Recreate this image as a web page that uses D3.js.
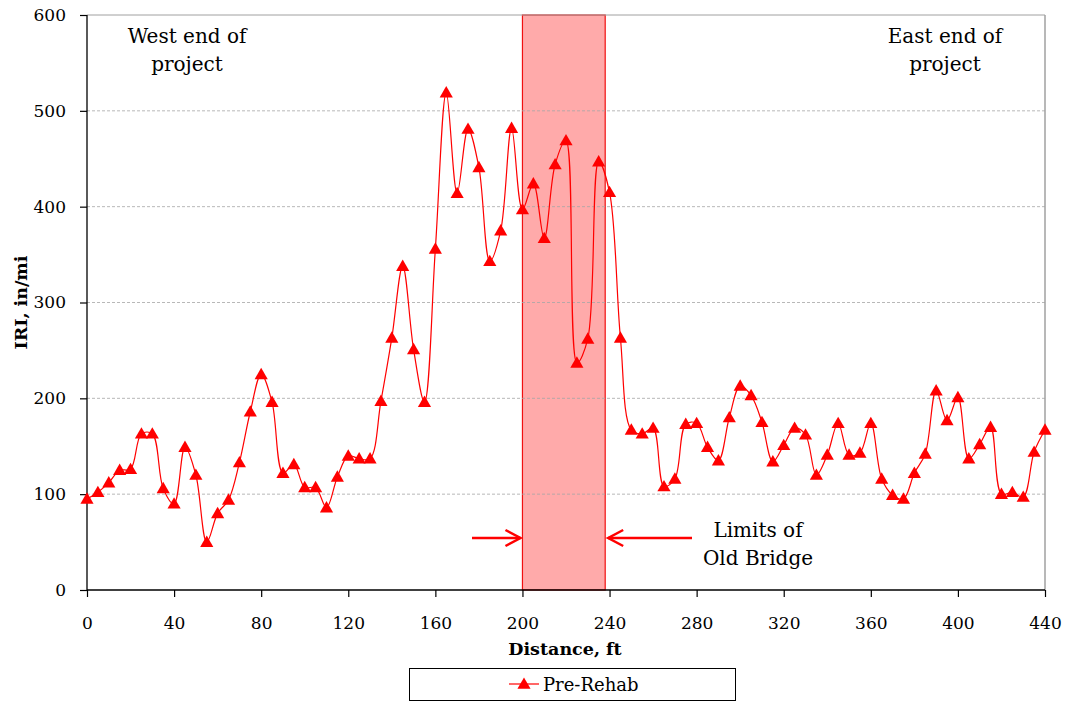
<!DOCTYPE html>
<html><head><meta charset="utf-8">
<script src="https://cdn.jsdelivr.net/npm/d3@7"></script>
<style>body{margin:0;background:#fff;} text{font-family:"DejaVu Serif",serif;fill:#000;}</style>
</head><body>
<svg id="chart" width="1066" height="702"></svg>
<script>
const distances = d3.range(0, 441, 5);
const preRehab = [95,102,112,125,126,163,163,106,90,149,120,50,80,94,133,186,225,196,122,131,
  107,107,86,118,140,137,137,197,263,338,251,196,356,519,414,481,441,343,375,482,
  397,424,367,444,469,237,262,447,415,263,167,163,169,108,116,173,174,149,135,180,
  213,203,175,134,151,169,162,120,141,174,141,143,174,116,99,95,122,142,208,177,
  201,137,152,170,100,102,97,144,167];
const xTicks = [0,40,80,120,160,200,240,280,320,360,400,440];
const yTicks = [0,100,200,300,400,500,600];
const bridge = [200, 238];
const seriesName = "Pre-Rehab";

const svg = d3.select("#chart");
const L = 87, R = 1045, T = 15, B = 590;
const x = d3.scaleLinear().domain([0,440]).range([L,R]);
const y = d3.scaleLinear().domain([0,600]).range([B,T]);

// bridge band
svg.append("rect").attr("x",x(bridge[0])).attr("y",T).attr("width",x(bridge[1])-x(bridge[0])).attr("height",B-T)
  .attr("fill","#ffaaaa").attr("stroke","#f01010").attr("stroke-width",1.2);

// gridlines
svg.append("g").selectAll("line").data(yTicks.filter(d=>d>0 && d<600)).join("line")
  .attr("x1",L).attr("x2",R).attr("y1",d=>y(d)).attr("y2",d=>y(d))
  .attr("stroke","#a6a6a6").attr("stroke-opacity",0.8).attr("stroke-width",1).attr("stroke-dasharray","3,2");
// plot border top/right
svg.append("line").attr("x1",L).attr("x2",R).attr("y1",y(600)).attr("y2",y(600)).attr("stroke","#a0a0a0");
svg.append("line").attr("x1",R).attr("x2",R).attr("y1",T).attr("y2",B).attr("stroke","#a0a0a0").attr("stroke-width",1.5);

// axes
const yAxis = d3.axisLeft(y).tickValues(yTicks).tickSize(7).tickPadding(14).tickFormat(d3.format("d"));
const gy = svg.append("g").attr("transform",`translate(${L},0)`).call(yAxis);
const xAxis = d3.axisBottom(x).tickValues(xTicks).tickSize(7).tickPadding(20).tickFormat(d3.format("d"));
const gx = svg.append("g").attr("transform",`translate(0,${B})`).call(xAxis);
[gx,gy].forEach(g=>{
  g.select(".domain").attr("stroke","#000").attr("stroke-width",1.3);
  g.selectAll(".tick line").attr("stroke","#000").attr("stroke-width",1.2);
  g.selectAll(".tick text").style("font-family","DejaVu Serif").style("font-size","17px").attr("fill","#000");
});
gx.select(".domain").attr("d",`M${L},0H${R}`);
gy.select(".domain").attr("d",`M0,${B}V${T}`);

// titles
svg.append("text").attr("x",(L+R)/2-1).attr("y",655).attr("text-anchor","middle")
  .style("font-weight","bold").style("font-size","17.5px").text("Distance, ft");
svg.append("text").attr("transform",`translate(27,${(T+B)/2}) rotate(-90)`).attr("text-anchor","middle")
  .style("font-weight","bold").style("font-size","17.5px").text("IRI, in/mi");

// line
const line = d3.line().x((d,i)=>x(distances[i])).y(d=>y(d)).curve(d3.curveCatmullRom.alpha(0.5));
svg.append("path").datum(preRehab).attr("d",line).attr("fill","none").attr("stroke","#ff0000").attr("stroke-width",1.2);
const tri = d3.symbol().type(d3.symbolTriangle).size(75);
svg.append("g").selectAll("path").data(preRehab).join("path")
  .attr("transform",(d,i)=>`translate(${x(distances[i])},${y(d)+1})`).attr("d",tri).attr("fill","#ff0000");

// annotations
function multi(cx, ys, lines){
  lines.forEach((t,i)=>svg.append("text").attr("x",cx).attr("y",ys[i]).attr("text-anchor","middle").style("font-size","20px").text(t));
}
multi(187,[43,71],["West end of","project"]);
multi(945,[43,71],["East end of","project"]);
multi(758,[537,565],["Limits of","Old Bridge"]);

// arrows
function arrow(x1,x2,yy){
  const dir = Math.sign(x2-x1);
  svg.append("line").attr("x1",x1).attr("x2",x2).attr("y1",yy).attr("y2",yy).attr("stroke","#ff0000").attr("stroke-width",2.5);
  svg.append("path").attr("d",`M${x2-dir*15},${yy-8}L${x2},${yy}L${x2-dir*15},${yy+8}`)
    .attr("fill","none").attr("stroke","#ff0000").attr("stroke-width",2.5);
}
arrow(472, x(bridge[0])-2, 538);
arrow(692, x(bridge[1])+3, 538);

// legend
const lg = svg.append("g");
lg.append("rect").attr("x",409.5).attr("y",668.5).attr("width",326).attr("height",32).attr("fill","#fff").attr("stroke","#000").attr("stroke-width",1);
lg.append("line").attr("x1",509).attr("x2",539).attr("y1",684).attr("y2",684).attr("stroke","#ff0000").attr("stroke-width",1.2);
lg.append("path").attr("transform","translate(524,685)").attr("d",tri).attr("fill","#ff0000");
lg.append("text").attr("x",543).attr("y",691).style("font-size","18px").text(seriesName);
</script>
</body></html>
